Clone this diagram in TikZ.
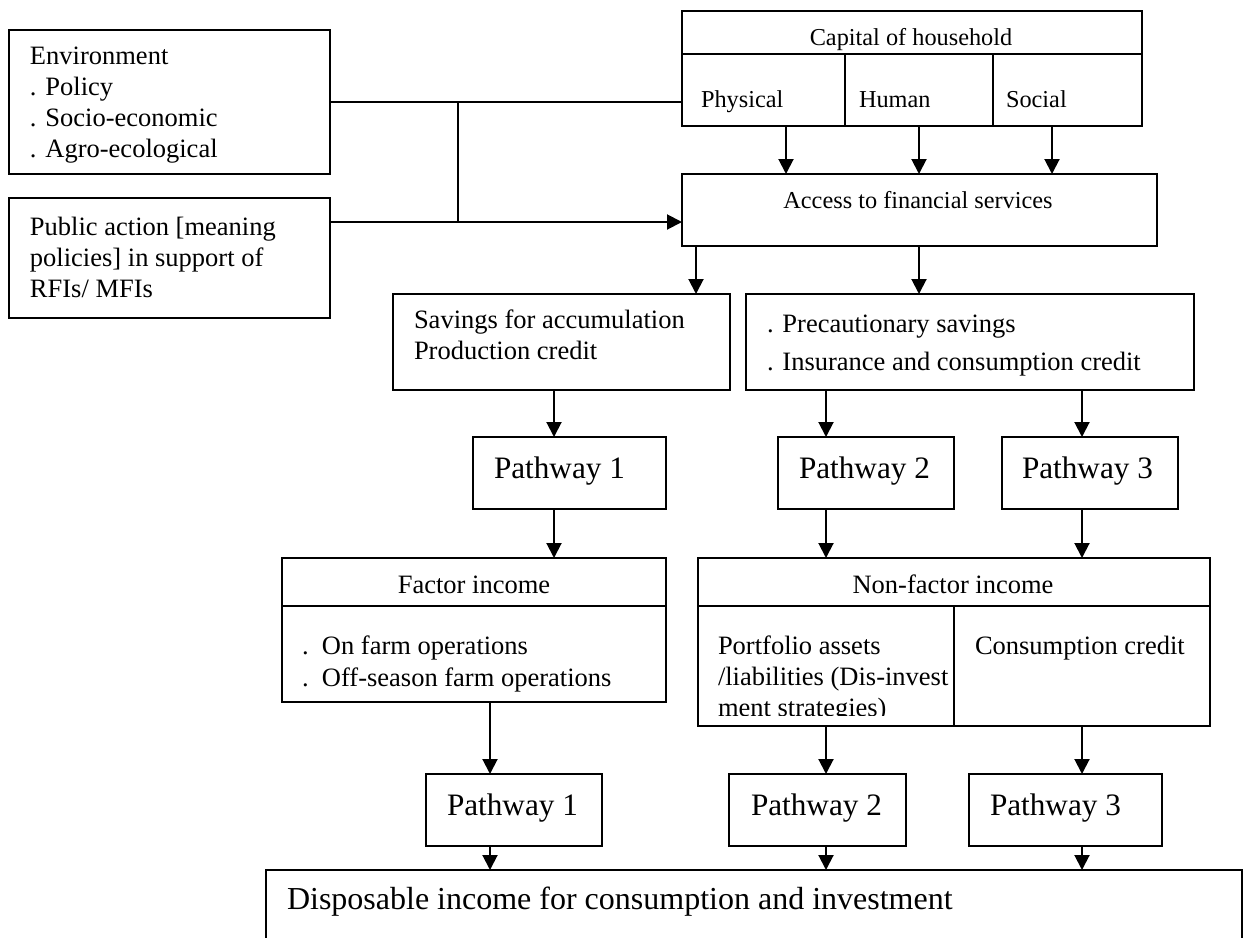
\documentclass[tikz,border=0pt]{standalone}
\usepackage{fontspec}
\setmainfont{Liberation Serif}
\usetikzlibrary{arrows.meta}
\newcommand\mkbox[5]{\node[box, minimum width={(#4-#2)*0.5pt}, minimum height={(#5-#3)*0.5pt}] (#1) at ({(#2+#4)/2},{(#3+#5)/2}) {};}
\begin{document}
\begin{tikzpicture}[x=0.5pt,y=-0.5pt,
  box/.style={draw, line width=1pt, rectangle, inner sep=0pt, outer sep=0pt},
  txt/.style={inner sep=0pt, outer sep=0pt, align=left, font=\fontsize{13.25}{15.5}\selectfont},
  stxt/.style={inner sep=0pt, outer sep=0pt, font=\fontsize{12.15}{14.5}\selectfont},
  ptxt/.style={inner sep=0pt, outer sep=0pt, font=\fontsize{15.6}{18}\selectfont},
  dtxt/.style={inner sep=0pt, outer sep=0pt, font=\fontsize{16}{19}\selectfont},
  arr/.style={line width=1pt, -{Triangle[width=7.5pt,length=7.5pt]}},
  ln/.style={line width=1pt}]
\useasboundingbox (0,0) rectangle (1244,938);
\clip (0,0) rectangle (1244,938);

% boxes
\mkbox{env}{9}{30}{330}{174}
\mkbox{pub}{9}{198}{330}{318}
\mkbox{captitle}{682}{11}{1142}{54}
\mkbox{phys}{682}{54}{845}{126}
\mkbox{hum}{845}{54}{993}{126}
\mkbox{soc}{993}{54}{1142}{126}
\mkbox{acc}{682}{174}{1157}{246}
\mkbox{sav}{393}{294}{730}{390}
\mkbox{prec}{746}{294}{1194}{390}
\mkbox{pa}{473}{437}{666}{509}
\mkbox{pb}{778}{437}{954}{509}
\mkbox{pc}{1002}{437}{1178}{509}
\mkbox{facttitle}{282}{558}{666}{606}
\mkbox{factbody}{282}{606}{666}{702}
\mkbox{nftitle}{698}{558}{1210}{606}
\mkbox{nfleft}{698}{606}{954}{726}
\mkbox{nfright}{954}{606}{1210}{726}
\mkbox{pd}{426}{774}{602}{846}
\mkbox{pe}{729}{774}{906}{846}
\mkbox{pf}{969}{774}{1162}{846}
\mkbox{disp}{266}{870}{1242}{960}

% texts
\node[txt, anchor=north west] (tenv) at (30,47) {Environment\\. Policy\\. Socio-economic\\. Agro-ecological};
\node[txt, anchor=north west] (tpub) at (30,217) {Public action [meaning\\policies] in support of\\RFIs/ MFIs};
\node[stxt, anchor=base] (tcap) at (911,45) {Capital of household};
\node[stxt, anchor=base west] (tphys) at (701,107) {Physical};
\node[stxt, anchor=base west] (thum) at (859,107) {Human};
\node[stxt, anchor=base west] (tsoc) at (1006,107) {Social};
\node[stxt, anchor=base] (tacc) at (918,208) {Access to financial services};
\node[txt, anchor=north west] (tsav) at (414,310) {Savings for accumulation\\Production credit};
\node[txt, anchor=north west] (tprec) at (767,315) {. Precautionary savings\\[3.5pt]. Insurance and consumption credit};
\node[ptxt, anchor=base west] (tpa) at (494,478) {Pathway 1};
\node[ptxt, anchor=base west] (tpb) at (799,478) {Pathway 2};
\node[ptxt, anchor=base west] (tpc) at (1022,478) {Pathway 3};
\node[txt, anchor=base] (tfact) at (474,593) {Factor income};
\node[txt, anchor=north west] (tfactb) at (302,636) {\makebox[10pt][l]{.}On farm operations\\[0.5pt]\makebox[10pt][l]{.}Off-season farm operations};
\node[txt, anchor=base] (tnf) at (953,593) {Non-factor income};
\begin{scope}
\clip (698,606) rectangle (954,715);
\node[txt, anchor=north west] (tport) at (718,636) {Portfolio assets\\/liabilities (Dis-invest\\ment strategies)};
\end{scope}
\node[txt, anchor=base west] (tcons) at (975,654) {Consumption credit};
\node[ptxt, anchor=base west] (tpd) at (447,815) {Pathway 1};
\node[ptxt, anchor=base west] (tpe) at (751,815) {Pathway 2};
\node[ptxt, anchor=base west] (tpf) at (990,815) {Pathway 3};
\node[dtxt, anchor=base west] (tdisp) at (287,909) {Disposable income for consumption and investment};

% helper coordinates
\coordinate (r222) at (0,222);
\coordinate (c458) at (458,0);
\coordinate (c786) at (786,0);
\coordinate (c1052) at (1052,0);
\coordinate (c696) at (696,0);
\coordinate (c919) at (919,0);
\coordinate (c554) at (554,0);
\coordinate (c826) at (826,0);
\coordinate (c1082) at (1082,0);
\coordinate (c490) at (490,0);

% connectors
\draw[ln] (env.east) -- (env.east -| phys.west);
\draw[arr] (pub.east |- r222) -- (acc.west |- r222);
\draw[ln] (c458 |- env.east) -- (c458 |- r222);
\draw[arr] (phys.south -| c786) -- (acc.north -| c786);
\draw[arr] (hum.south) -- (acc.north -| hum.south);
\draw[arr] (soc.south -| c1052) -- (acc.north -| c1052);
\draw[arr] (acc.south -| c696) -- (sav.north -| c696);
\draw[arr] (acc.south -| c919) -- (prec.north -| c919);
\draw[arr] (sav.south -| c554) -- (pa.north -| c554);
\draw[arr] (prec.south -| c826) -- (pb.north -| c826);
\draw[arr] (prec.south -| c1082) -- (pc.north -| c1082);
\draw[arr] (pa.south -| c554) -- (facttitle.north -| c554);
\draw[arr] (pb.south -| c826) -- (nftitle.north -| c826);
\draw[arr] (pc.south -| c1082) -- (nftitle.north -| c1082);
\draw[arr] (factbody.south -| c490) -- (pd.north -| c490);
\draw[arr] (nfleft.south -| c826) -- (pe.north -| c826);
\draw[arr] (nfright.south -| c1082) -- (pf.north -| c1082);
\draw[arr] (pd.south -| c490) -- (disp.north -| c490);
\draw[arr] (pe.south -| c826) -- (disp.north -| c826);
\draw[arr] (pf.south -| c1082) -- (disp.north -| c1082);
\end{tikzpicture}
\end{document}
